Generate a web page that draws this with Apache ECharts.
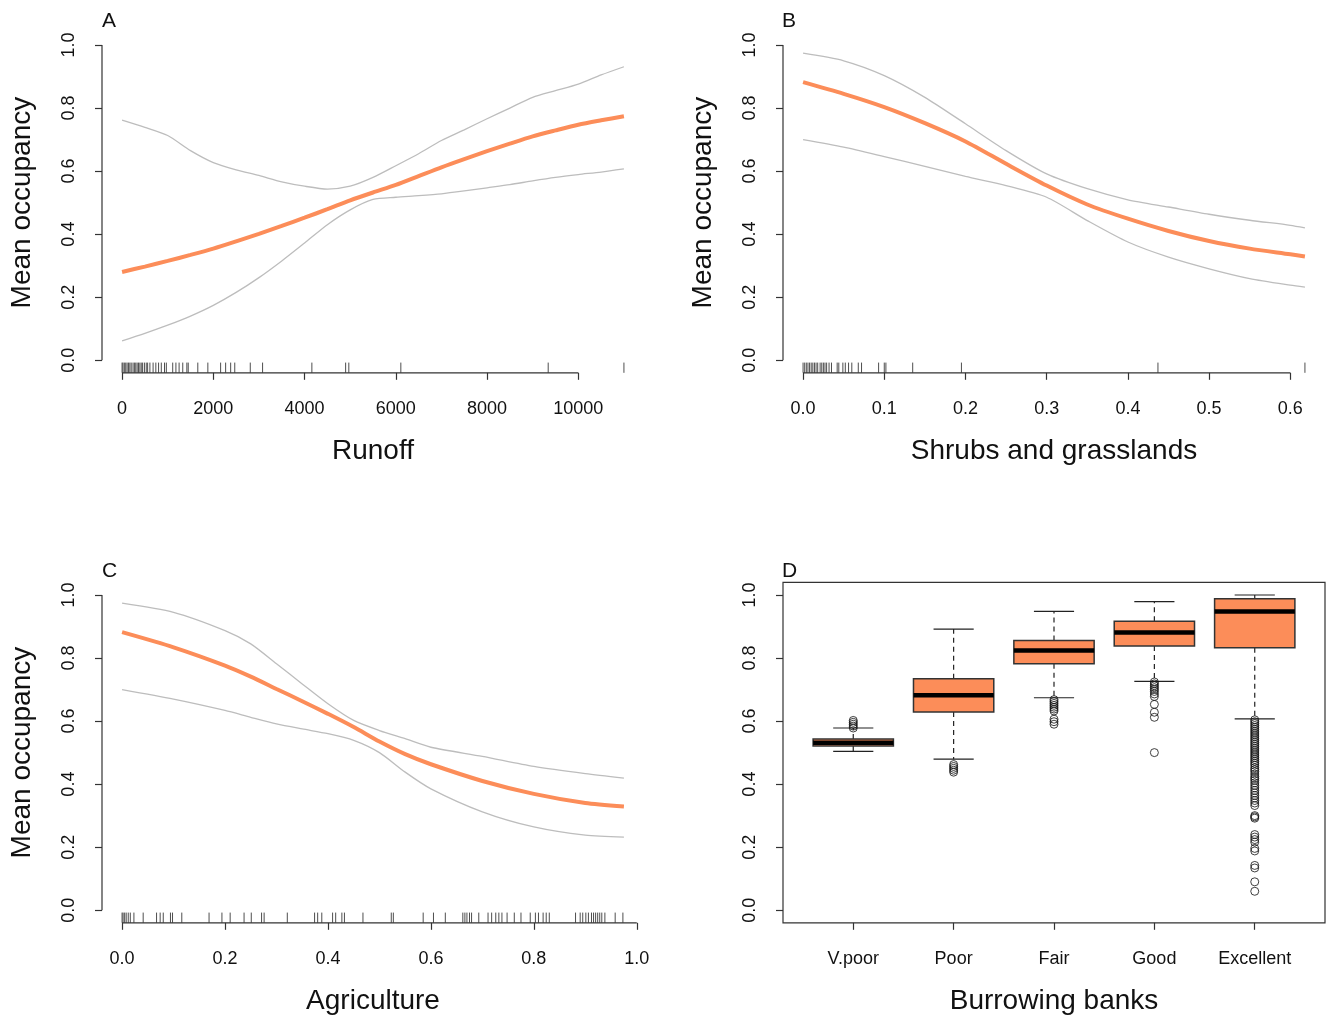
<!DOCTYPE html>
<html><head><meta charset="utf-8">
<script src="https://cdn.jsdelivr.net/npm/echarts/dist/echarts.min.js"></script>
<style>html,body{margin:0;padding:0;background:#fff}#chart{width:1327px;height:1016px}</style>
</head><body><div id="chart"></div>
<script>
// ---------- Panel A: Runoff ----------
const runoffX = [0,500,1000,1500,2000,2500,3000,3500,4000,4500,5000,5500,6000,6500,7000,7500,8000,8500,9000,9500,10000,10500,11000];
const runoffMean = [0.280,0.297,0.315,0.334,0.354,0.377,0.401,0.426,0.452,0.479,0.507,0.532,0.556,0.584,0.612,0.638,0.663,0.687,0.710,0.729,0.747,0.761,0.774];
const runoffUpper = [0.762,0.739,0.713,0.665,0.627,0.604,0.586,0.566,0.552,0.543,0.552,0.580,0.617,0.655,0.697,0.731,0.766,0.800,0.834,0.855,0.876,0.905,0.931];
const runoffLower = [0.061,0.085,0.111,0.140,0.174,0.215,0.262,0.315,0.372,0.430,0.477,0.510,0.517,0.522,0.528,0.537,0.547,0.557,0.569,0.580,0.589,0.597,0.607];
const runoffRug = [0,20,50,80,110,140,170,200,240,270,300,330,360,390,420,450,490,530,560,610,680,740,800,860,930,970,1110,1180,1250,1330,1420,1450,1660,1880,2160,2270,2380,2470,2810,3080,4160,4900,4970,6110,9340,11000];
const runoffTicks = [0,2000,4000,6000,8000,10000];

// ---------- Panel B: Shrubs and grasslands ----------
const shrubX = [0,0.05,0.1,0.15,0.2,0.25,0.3,0.35,0.4,0.45,0.5,0.55,0.6,0.618];
const shrubMean = [0.882,0.845,0.803,0.752,0.694,0.623,0.554,0.494,0.449,0.410,0.378,0.354,0.336,0.329];
const shrubUpper = [0.974,0.950,0.903,0.834,0.750,0.665,0.591,0.544,0.509,0.486,0.463,0.444,0.428,0.420];
const shrubLower = [0.700,0.676,0.646,0.615,0.583,0.554,0.517,0.443,0.375,0.327,0.290,0.259,0.238,0.232];
const shrubRug = [0,0.002,0.004,0.006,0.008,0.010,0.012,0.014,0.016,0.018,0.021,0.023,0.025,0.027,0.029,0.032,0.035,0.042,0.044,0.049,0.052,0.056,0.060,0.068,0.072,0.093,0.100,0.102,0.135,0.195,0.437,0.618];
const shrubTicks = [0,0.1,0.2,0.3,0.4,0.5,0.6];

// ---------- Panel C: Agriculture ----------
const agriX = [0,0.1,0.2,0.25,0.3,0.35,0.4,0.45,0.5,0.55,0.6,0.7,0.8,0.9,0.975];
const agriMean = [0.882,0.834,0.776,0.741,0.702,0.663,0.623,0.581,0.535,0.495,0.463,0.410,0.369,0.340,0.329];
const agriUpper = [0.974,0.945,0.887,0.845,0.782,0.718,0.655,0.602,0.570,0.544,0.517,0.488,0.456,0.433,0.419];
const agriLower = [0.700,0.670,0.634,0.612,0.591,0.575,0.560,0.539,0.500,0.438,0.385,0.312,0.264,0.238,0.232];
const agriRug = [0,0.002,0.005,0.008,0.012,0.016,0.023,0.041,0.067,0.074,0.080,0.094,0.098,0.116,0.169,0.194,0.210,0.237,0.251,0.271,0.276,0.321,0.374,0.380,0.388,0.409,0.415,0.427,0.432,0.468,0.523,0.527,0.585,0.605,0.628,0.662,0.666,0.670,0.675,0.679,0.693,0.711,0.718,0.726,0.732,0.738,0.748,0.762,0.775,0.793,0.803,0.809,0.818,0.824,0.830,0.881,0.890,0.895,0.901,0.906,0.912,0.916,0.920,0.924,0.928,0.932,0.938,0.958,0.973];
const agriTicks = [0,0.2,0.4,0.6,0.8,1.0];

// ---------- Panel D: Burrowing banks ----------
const bankCats = ['V.poor','Poor','Fair','Good','Excellent'];
const bankMin    = [0.504,0.479,0.674,0.726,0.607];
const bankQ1     = [0.521,0.629,0.782,0.838,0.833];
const bankMedian = [0.531,0.682,0.824,0.881,0.948];
const bankQ3     = [0.543,0.734,0.856,0.917,0.988];
const bankMax    = [0.578,0.892,0.948,0.979,1.000];
const outVpoor = [0.602,0.596,0.590,0.584,0.578];
const outPoor  = [0.462,0.456,0.450,0.444,0.438];
const outFair  = [0.668,0.662,0.656,0.650,0.644,0.638,0.632,0.606,0.598,0.590];
const outGood  = [0.724,0.718,0.712,0.706,0.700,0.694,0.686,0.678,0.653,0.628,0.612,0.500];
const outExcellent = [0.604,0.598,0.592,0.586,0.580,0.574,0.568,0.562,0.556,0.550,0.544,0.538,0.532,0.526,0.520,0.514,0.508,0.502,0.496,0.490,0.484,0.478,0.472,0.466,0.460,0.452,0.446,0.440,0.432,0.424,0.418,0.412,0.404,0.396,0.388,0.380,0.372,0.364,0.356,0.348,0.340,0.332,0.300,0.296,0.292,0.240,0.232,0.224,0.216,0.196,0.188,0.142,0.134,0.090,0.060];
const bankTicks = [1,2,3,4,5];

const yTicks = [0,0.2,0.4,0.6,0.8,1.0];

// ---------- build ----------
const FONT = '"Liberation Sans", Arial, Helvetica, sans-serif';
const ORANGE = '#FC8D59';
const AXIS = '#333333';
const zip = (xs, ys) => xs.map((x, i) => [x, ys[i]]);

const grids = [
  {left: 102, top: 32.4, width: 542, height: 340.4},
  {left: 783, top: 32.4, width: 542, height: 340.4},
  {left: 102, top: 582.4, width: 542, height: 340.4},
  {left: 783, top: 582.4, width: 542, height: 340.4}
];
function pad(lo, hi){ const d = (hi - lo) * 0.04; return [lo - d, hi + d]; }
const xr = [pad(0, 11000), pad(0, 0.618), pad(0, 0.975), pad(0.5, 5.5)];
const yr = pad(0, 1);
const xTickSets = [runoffTicks, shrubTicks, agriTicks, bankTicks];
const xFormat = [v => String(v), v => v.toFixed(1), v => v.toFixed(1), v => bankCats[Math.round(v) - 1]];
const xNames = ['Runoff', 'Shrubs and grasslands', 'Agriculture', 'Burrowing banks'];
const yNames = ['Mean occupancy', 'Mean occupancy', 'Mean occupancy', ''];

const xAxes = grids.map((g, i) => ({
  type: 'value', gridIndex: i, min: xr[i][0], max: xr[i][1], position: 'bottom',
  axisLine: {show: false, onZero: false},
  splitLine: {show: false},
  axisTick: {show: true, length: 7, customValues: xTickSets[i], lineStyle: {color: AXIS, width: 1.2}},
  axisLabel: {show: true, customValues: xTickSets[i], formatter: xFormat[i], margin: 27,
    fontFamily: FONT, fontSize: 18, color: '#111', showMinLabel: true, showMaxLabel: true},
  name: xNames[i], nameLocation: 'middle', nameGap: 64,
  nameTextStyle: {fontFamily: FONT, fontSize: 28, color: '#111'}
}));
const yAxes = grids.map((g, i) => ({
  type: 'value', gridIndex: i, min: yr[0], max: yr[1], position: 'left',
  axisLine: {show: false, onZero: false},
  splitLine: {show: false},
  axisTick: {show: true, length: 7, customValues: yTicks, lineStyle: {color: AXIS, width: 1.2}},
  axisLabel: {show: true, customValues: yTicks, formatter: v => v.toFixed(1), rotate: 90, margin: 24,
    fontFamily: FONT, fontSize: 18, color: '#111', showMinLabel: true, showMaxLabel: true},
  name: yNames[i], nameLocation: 'middle', nameGap: 66,
  nameTextStyle: {fontFamily: FONT, fontSize: 28, color: '#111'}
}));

const series = [];
function frameSeries(i, boxed){
  const xt = xTickSets[i];
  return {
    type: 'custom', xAxisIndex: i, yAxisIndex: i, clip: false, silent: true, z: 5,
    data: [[xt[0], 0]],
    renderItem: function(params, api){
      const cs = params.coordSys;
      const bottom = cs.y + cs.height;
      const st = {stroke: AXIS, lineWidth: 1.2, fill: null};
      const ch = [];
      if (boxed) {
        ch.push({type: 'rect', shape: {x: cs.x, y: cs.y, width: cs.width, height: cs.height}, style: st});
      } else {
        const xa = api.coord([xt[0], 0])[0], xb = api.coord([xt[xt.length - 1], 0])[0];
        ch.push({type: 'line', shape: {x1: xa, y1: bottom, x2: xb, y2: bottom}, style: st});
        const ya = api.coord([xt[0], yTicks[0]])[1], yb = api.coord([xt[0], yTicks[yTicks.length - 1]])[1];
        ch.push({type: 'line', shape: {x1: cs.x, y1: ya, x2: cs.x, y2: yb}, style: st});
      }
      return {type: 'group', children: ch};
    }
  };
}
function rugSeries(i, vals){
  return {
    type: 'custom', xAxisIndex: i, yAxisIndex: i, clip: false, silent: true, z: 4,
    data: vals.map(v => [v, 0]),
    renderItem: function(params, api){
      const cs = params.coordSys;
      const bottom = cs.y + cs.height;
      const x = api.coord([api.value(0), 0])[0];
      return {type: 'line', shape: {x1: x, y1: bottom, x2: x, y2: bottom - cs.height * 0.03},
        style: {stroke: '#222', lineWidth: 1, opacity: 0.8}};
    }
  };
}
function curve(i, xs, ys, main){
  return {
    type: 'line', xAxisIndex: i, yAxisIndex: i, data: zip(xs, ys), showSymbol: false, symbol: 'none',
    smooth: 0.25, silent: true, z: main ? 3 : 2,
    lineStyle: main ? {color: ORANGE, width: 4} : {color: '#bdbdbd', width: 1.3}
  };
}
const curvePanels = [
  [runoffX, runoffMean, runoffUpper, runoffLower, runoffRug],
  [shrubX, shrubMean, shrubUpper, shrubLower, shrubRug],
  [agriX, agriMean, agriUpper, agriLower, agriRug]
];
curvePanels.forEach((p, i) => {
  series.push(frameSeries(i, false));
  series.push(rugSeries(i, p[4]));
  series.push(curve(i, p[0], p[2], false));
  series.push(curve(i, p[0], p[3], false));
  series.push(curve(i, p[0], p[1], true));
});
// Panel D
series.push(frameSeries(3, true));
series.push({
  type: 'custom', xAxisIndex: 3, yAxisIndex: 3, silent: true, z: 3,
  encode: {x: 0, y: [1, 2, 3, 4, 5]},
  data: bankTicks.map((p, k) => [p, bankMin[k], bankQ1[k], bankMedian[k], bankQ3[k], bankMax[k]]),
  renderItem: function(params, api){
    const p = api.value(0);
    const c = (x, y) => api.coord([x, y]);
    const [xl, yq3] = c(p - 0.4, api.value(4));
    const [xr2, yq1] = c(p + 0.4, api.value(2));
    const [xm, ymed] = c(p, api.value(3));
    const ymin = c(p, api.value(1))[1], ymax = c(p, api.value(5))[1];
    const sl = c(p - 0.2, 0)[0], sr = c(p + 0.2, 0)[0];
    const ln = {stroke: '#222', lineWidth: 1.2};
    const dash = {stroke: '#222', lineWidth: 1.2, lineDash: [5, 4]};
    return {type: 'group', children: [
      {type: 'line', shape: {x1: xm, y1: yq3, x2: xm, y2: ymax}, style: dash},
      {type: 'line', shape: {x1: xm, y1: yq1, x2: xm, y2: ymin}, style: dash},
      {type: 'line', shape: {x1: sl, y1: ymax, x2: sr, y2: ymax}, style: ln},
      {type: 'line', shape: {x1: sl, y1: ymin, x2: sr, y2: ymin}, style: ln},
      {type: 'rect', shape: {x: xl, y: yq3, width: xr2 - xl, height: yq1 - yq3}, style: {fill: ORANGE, stroke: '#333', lineWidth: 1.5}},
      {type: 'line', shape: {x1: xl, y1: ymed, x2: xr2, y2: ymed}, style: {stroke: '#000', lineWidth: 4.5}}
    ]};
  }
});
const outliers = [outVpoor, outPoor, outFair, outGood, outExcellent];
series.push({
  type: 'scatter', xAxisIndex: 3, yAxisIndex: 3, silent: true, z: 4,
  symbol: 'circle', symbolSize: 8,
  itemStyle: {color: 'rgba(0,0,0,0)', borderColor: '#111', borderWidth: 1},
  data: outliers.flatMap((arr, k) => arr.map(v => [bankTicks[k], v]))
});

const letters = [['A', 110, 20], ['B', 790, 20], ['C', 110, 570], ['D', 790, 570]];
const chart = echarts.init(document.getElementById('chart'), null, {renderer: 'canvas'});
chart.setOption({
  animation: false,
  backgroundColor: '#ffffff',
  grid: grids,
  xAxis: xAxes,
  yAxis: yAxes,
  series: series,
  graphic: letters.map(l => ({type: 'text', left: l[1] - 8, top: l[2] - 9,
    style: {text: l[0], font: '21px ' + FONT, fill: '#111'}}))
});
</script>
</body></html>
